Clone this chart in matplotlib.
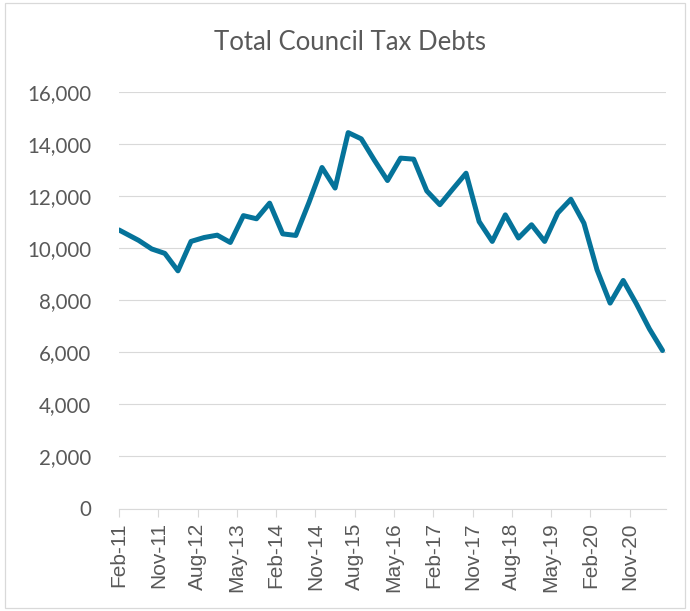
import numpy as np
import matplotlib
matplotlib.use("Agg")
import matplotlib.pyplot as plt
from matplotlib.patches import Rectangle

# months since Feb-11: first reading, then quarterly readings
months = np.concatenate([[0.0], 4.5 + 3 * np.arange(41)])

debts = [10700, 10300, 9970, 9800, 9130, 10260, 10410, 10500, 10220, 11250,
         11130, 11730, 10550, 10490, 11750, 13100, 12310, 14440, 14200, 13380,
         12600, 13460, 13420, 12200, 11670, 12280, 12880, 11020, 10260, 11280,
         10390, 10900, 10260, 11350, 11880, 10960, 9170, 7890, 8760, 7870,
         6900, 6070]

tick_labels = ['Feb-11', 'Nov-11', 'Aug-12', 'May-13', 'Feb-14', 'Nov-14',
               'Aug-15', 'May-16', 'Feb-17', 'Nov-17', 'Aug-18', 'May-19',
               'Feb-20', 'Nov-20']
tick_months = np.arange(len(tick_labels)) * 9

y_ticks = np.arange(0, 16001, 2000)

fig = plt.figure(figsize=(6.9, 6.11), dpi=100)
ax = fig.add_axes([119 / 690, 1 - 508.5 / 611, (666 - 119) / 690, (508.5 - 92) / 611])

# light chart border
fig.patches.append(Rectangle((5 / 690, 3 / 611), 680 / 690, 605 / 611,
                             transform=fig.transFigure, fill=False,
                             edgecolor='#D9D9D9', linewidth=0.9))

ax.plot(months, debts, color='#05739A', linewidth=3.6,
        solid_capstyle='round', solid_joinstyle='round', zorder=3)

ax.set_xlim(0, 125.3)
ax.set_ylim(0, 16000)
ax.set_yticks(y_ticks)
ax.set_yticklabels([f'{v:,}' for v in y_ticks])
ax.set_xticks(tick_months)
ax.set_xticklabels(tick_labels, rotation=90)

ax.grid(axis='y', color='#D9D9D9', linewidth=0.8)
ax.set_axisbelow(True)
for side in ['top', 'right', 'left']:
    ax.spines[side].set_visible(False)
ax.spines['bottom'].set_color('#D9D9D9')
ax.spines['bottom'].set_linewidth(0.8)

ax.tick_params(axis='y', length=0, pad=20, labelcolor='#595959')
ax.tick_params(axis='x', length=6, width=0.8, color='#D9D9D9', pad=4,
               labelcolor='#595959')
for lab in ax.get_yticklabels():
    lab.set_fontfamily('Lato')
    lab.set_fontsize(14.8)
for lab in ax.get_xticklabels():
    lab.set_fontfamily('Liberation Sans')
    lab.set_fontsize(15)

fig.text(350 / 690, 1 - 43 / 611, 'Total Council Tax Debts', ha='center',
         va='center', fontsize=18.5, family='Lato', color='#595959')

fig.savefig('out.png', dpi=100)
